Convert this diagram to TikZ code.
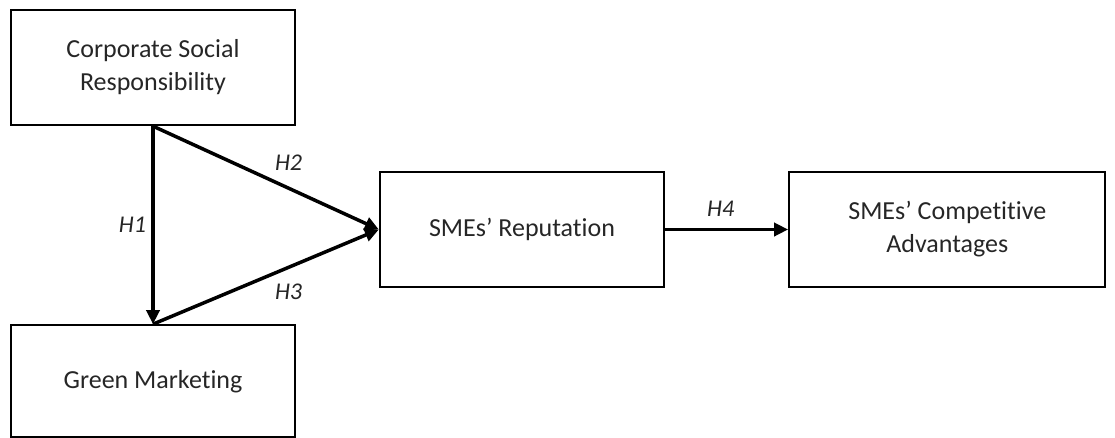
\documentclass[tikz,border=0pt]{standalone}
\usepackage{fontspec}
\setmainfont[Ligatures=NoCommon]{Carlito}
\usetikzlibrary{arrows.meta,positioning}

\begin{document}
\begin{tikzpicture}[
    x=1pt, y=1pt,
    node distance=198pt,
    construct/.style={rectangle, minimum width=284pt, minimum height=115pt, text centered, align=center, draw=black, line width=2.3pt, inner sep=0pt, text=black!85, font=\fontsize{26}{33}\selectfont},
    arrow/.style={line width=3.5pt, -{Triangle[length=14pt,width=13pt]}},
    hyp/.style={text=black!85, font=\fontsize{24}{28}\selectfont\itshape}
]
\useasboundingbox (0,0) rectangle (1115,-437);

% Constructs
\node[construct] (csr) at (153,-67.5) {Corporate Social\\Responsibility};
\node[construct, below=of csr, minimum height=112pt] (green) {Green Marketing};
\node[construct] (rep) at (522,-229.5) {SMEs’ Reputation};
\node[construct, right=123pt of rep, minimum width=316pt] (adv) {SMEs’ Competitive\\Advantages};

% Hypotheses
\draw[arrow] (csr.south) -- node[hyp, left=2pt] {H1} (green.north);
\draw[arrow] (csr.south) -- node[hyp, above right=2pt and 4pt] {H2} (rep.west);
\draw[arrow] (green.north) -- node[hyp, below right=2pt and 4pt] {H3} (rep.west);
\draw[arrow] (rep.east) -- node[hyp, above=8pt, xshift=-6pt] {H4} (adv.west);

\end{tikzpicture}
\end{document}
